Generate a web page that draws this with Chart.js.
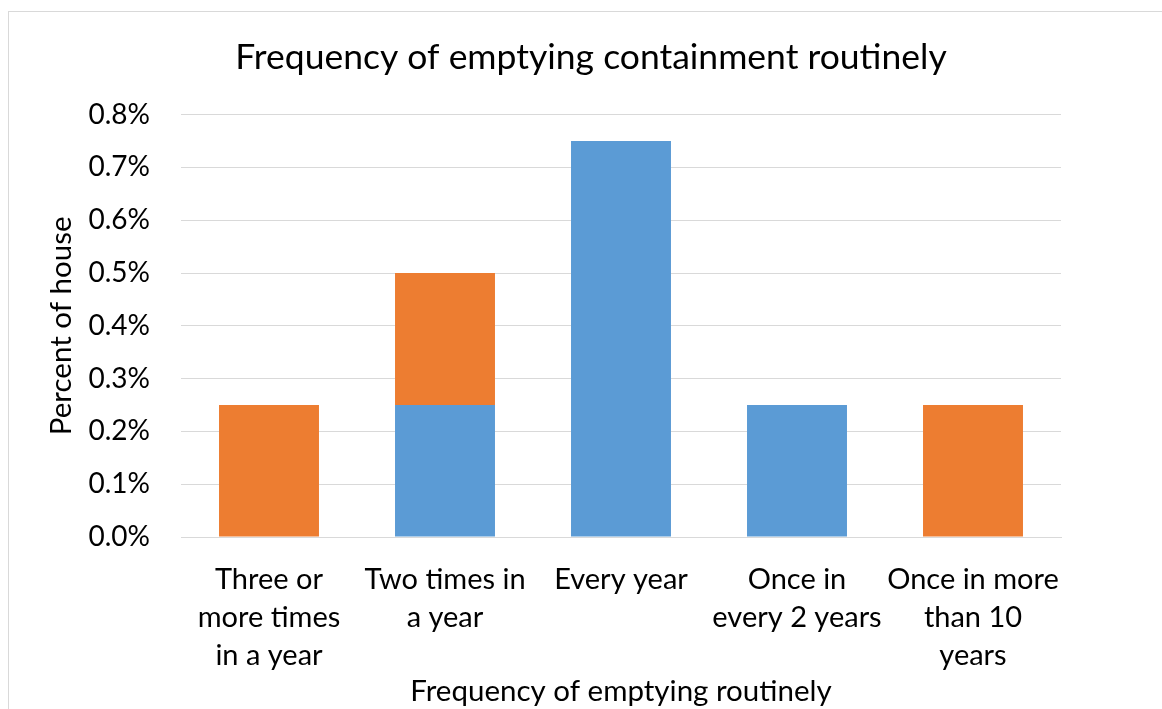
<!DOCTYPE html>
<html>
<head>
<meta charset="utf-8">
<script src="https://cdn.jsdelivr.net/npm/chart.js@4/dist/chart.umd.min.js"></script>
<style>
  html, body { margin: 0; padding: 0; background: #ffffff; overflow: hidden; }
  #wrap { position: relative; width: 1162px; height: 709px; }
  #frame { position: absolute; left: 8px; top: 11px; width: 1200px; height: 760px; border: 1px solid #d9d9d9; box-sizing: border-box; pointer-events: none; }
  canvas { position: absolute; left: 0; top: 0; }
</style>
</head>
<body>
<div id="wrap">
  <div id="frame"></div>
  <canvas id="c" width="1162" height="709"></canvas>
</div>
<script>
const categories = [
  ["Three or", "more times", "in a year"],
  ["Two times in", "a year"],
  ["Every year"],
  ["Once in", "every 2 years"],
  ["Once in more", "than 10", "years"]
];
const blueValues = [0, 0.25, 0.75, 0.25, 0];
const orangeValues = [0.25, 0.25, 0, 0, 0.25];
const yTicks = [0, 0.1, 0.2, 0.3, 0.4, 0.5, 0.6, 0.7, 0.8];
const chartTitle = "Frequency of emptying containment routinely";
const xTitle = "Frequency of emptying routinely";
const yTitle = "Percent of house";

const FONT = "Lato, 'Liberation Sans', sans-serif";

new Chart(document.getElementById('c'), {
  type: 'bar',
  data: {
    labels: categories,
    datasets: [
      { label: 'Series 1', data: blueValues, backgroundColor: '#5B9BD5', borderWidth: 0, yAxisID: 'y' },
      { label: 'Series 2', data: orangeValues, backgroundColor: '#ED7D31', borderWidth: 0, yAxisID: 'y' }
    ]
  },
  options: {
    responsive: false,
    animation: false,
    layout: { padding: { top: 0, right: 0, bottom: 0, left: 20 } },
    datasets: { bar: { categoryPercentage: 1, barPercentage: 0.568 } },
    plugins: {
      legend: { display: false },
      tooltip: { enabled: false },
      title: {
        display: true,
        text: chartTitle,
        color: '#000000',
        font: { family: FONT, size: 35.5, weight: 'normal', lineHeight: 1.2 },
        padding: { top: 36, bottom: 36 }
      }
    },
    scales: {
      x: {
        stacked: true,
        grid: { display: false, drawTicks: false },
        border: { display: true, color: '#d9d9d9', width: 1 },
        ticks: {
          color: '#000000',
          font: { family: FONT, size: 29, lineHeight: 1.31 },
          padding: 24,
          maxRotation: 0,
          autoSkip: false
        },
        title: {
          display: true,
          text: xTitle,
          color: '#000000',
          font: { family: FONT, size: 29.5, lineHeight: 1.2 },
          padding: { top: 0, bottom: 0 }
        },
        afterFit: function (s) { s.height = 172; }
      },
      y: {
        stacked: true,
        min: 0,
        max: 0.8,
        afterBuildTicks: function (s) { s.ticks = yTicks.map(v => ({ value: v })); },
        grid: { color: '#d9d9d9', lineWidth: 1, drawTicks: false },
        border: { display: false },
        ticks: {
          color: '#000000',
          font: { family: FONT, size: 28 },
          padding: 31,
          callback: function (v) { return Number(v).toFixed(1) + '%'; }
        },
        title: {
          display: true,
          text: yTitle,
          color: '#000000',
          font: { family: FONT, size: 29.5, lineHeight: 1.2 },
          padding: { top: 24, bottom: 0 }
        },
        afterFit: function (s) { s.width = 161; }
      },
      yRight: {
        position: 'right',
        display: true,
        grid: { display: false, drawTicks: false },
        border: { display: false },
        ticks: { display: false },
        afterFit: function (s) { s.width = 101; }
      }
    }
  }
});
</script>
</body>
</html>
